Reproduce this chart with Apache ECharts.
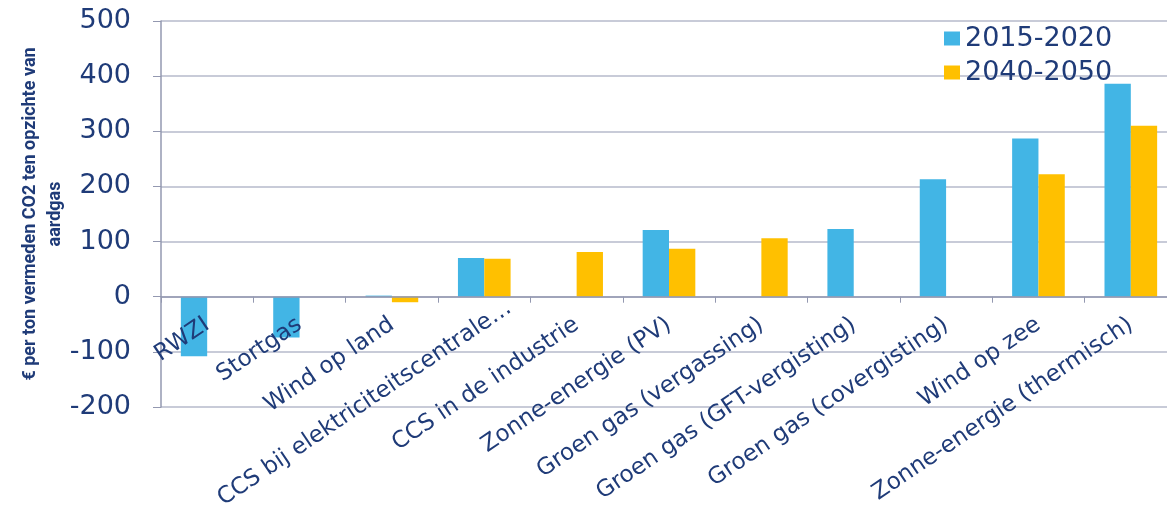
<!DOCTYPE html>
<html>
<head>
<meta charset="utf-8">
<script src="https://cdn.jsdelivr.net/npm/echarts@6/dist/echarts.min.js"></script>
<style>
  html, body { margin: 0; padding: 0; background: #fff; }
  #chart { width: 1167px; height: 517px; }
</style>
</head>
<body>
<div id="chart"></div>
<script>
const categories = [
  "RWZI",
  "Stortgas",
  "Wind op land",
  "CCS bij elektriciteitscentrale…",
  "CCS in de industrie",
  "Zonne-energie (PV)",
  "Groen gas (vergassing)",
  "Groen gas (GFT-vergisting)",
  "Groen gas (covergisting)",
  "Wind op zee",
  "Zonne-energie (thermisch)"
];
const series2015 = [-108, -74, 2, 70, null, 121, null, 123, 213, 287, 386];
const series2040 = [null, null, -10, 69, 81, 87, 106, null, null, 222, 310];
const seriesNames = ["2015-2020", "2040-2050"];
const yName = "€ per ton vermeden CO2 ten opzichte van\naardgas";
const yMin = -200;
const yMax = 500;

const textColor = "#1f3b78";
const gridColor = "#b6bacb";
const axisColor = "#9398b0";

const gridTop = 21;
const gridBottom = 110;
const chartHeight = 517;

// category axis sits on the zero line (onZero leaves the labels at the bottom in v6)
const plotHeight = chartHeight - gridTop - gridBottom;
const zeroOffset = -plotHeight * (0 - yMin) / (yMax - yMin);

// the truncated label overshoots its tick in the original, nudge it along its baseline
const axisData = categories.map(function(name) {
  if (name.endsWith("…")) {
    return { value: name, textStyle: { padding: [0, -30, 0, 0] } };
  }
  return name;
});

const chart = echarts.init(document.getElementById("chart"), null, { renderer: "canvas" });

chart.setOption({
  animation: false,
  backgroundColor: "#fff",
  textStyle: { fontFamily: "DejaVu Sans" },
  grid: {
    left: 161, right: -10, top: gridTop, bottom: gridBottom,
    containLabel: false,
    outerBoundsMode: "none"
  },
  legend: {
    orient: "vertical",
    left: 939,
    top: 20,
    itemWidth: 16,
    itemHeight: 14,
    itemGap: 7,
    icon: "rect",
    textStyle: { color: textColor, fontSize: 27, fontFamily: "DejaVu Sans" },
    data: seriesNames
  },
  xAxis: {
    type: "category",
    data: axisData,
    offset: zeroOffset,
    z: 10,
    axisLine: { onZero: false, lineStyle: { color: axisColor, width: 1.5 } },
    axisTick: { show: true, interval: 0, length: 6, lineStyle: { color: axisColor } },
    axisLabel: {
      interval: 0,
      rotate: 34,
      margin: 26,
      color: textColor,
      fontSize: 23,
      fontFamily: "DejaVu Sans"
    }
  },
  yAxis: {
    type: "value",
    min: yMin,
    max: yMax,
    interval: 100,
    name: yName,
    nameLocation: "middle",
    nameGap: 93,
    nameMoveOverlap: false,
    nameTextStyle: {
      color: textColor,
      fontSize: 18,
      fontWeight: "bold",
      fontFamily: "'Liberation Sans Narrow', 'Roboto', 'Liberation Sans', sans-serif",
      lineHeight: 25
    },
    axisLine: { show: true, lineStyle: { color: axisColor, width: 1.5 } },
    axisTick: { show: true, length: 8, lineStyle: { color: axisColor } },
    axisLabel: { color: textColor, fontSize: 27, margin: 30, fontFamily: "DejaVu Sans" },
    splitLine: { lineStyle: { color: gridColor, width: 1.5 } }
  },
  series: [
    {
      name: seriesNames[0],
      type: "bar",
      data: series2015,
      barGap: "0%",
      barCategoryGap: "43%",
      itemStyle: { color: "#42b5e5" }
    },
    {
      name: seriesNames[1],
      type: "bar",
      data: series2040,
      barGap: "0%",
      barCategoryGap: "43%",
      itemStyle: { color: "#ffc000" }
    }
  ]
});
</script>
</body>
</html>
